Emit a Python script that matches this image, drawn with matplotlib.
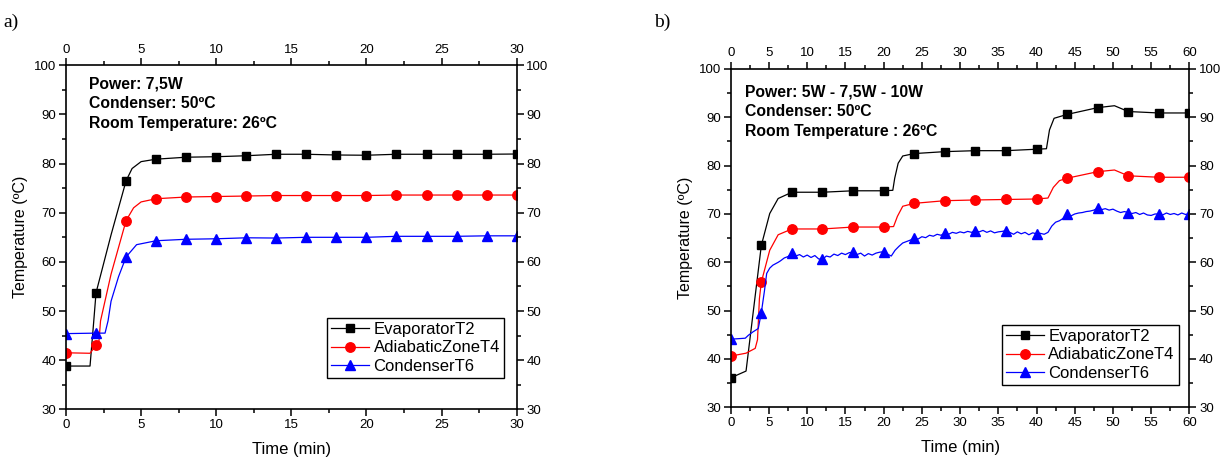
import numpy as np
import matplotlib
matplotlib.use('Agg')
import matplotlib.pyplot as plt
from matplotlib.ticker import MultipleLocator

plt.rcParams['font.family'] = ['Liberation Sans', 'DejaVu Sans']

# ===== Panel a data (constant power 7,5W) =====
ta_marks = [0, 2, 4, 6, 8, 10, 12, 14, 16, 18, 20, 22, 24, 26, 28, 30]

ta_evap = [0, 1.6, 1.85, 2, 3, 4, 4.4, 5, 6, 8, 10, 12, 14, 16, 18, 20, 22, 24, 26, 28, 30]
evap_a = [38.8, 38.8, 48.0, 53.7, 65.5, 76.5, 79.0, 80.4, 80.9, 81.3, 81.4, 81.6, 81.9, 81.9,
          81.75, 81.7, 81.9, 81.9, 81.9, 81.9, 81.95]

ta_adiab = [0, 1.6, 2, 2.2, 2.3, 3, 4, 4.5, 5, 6, 8, 10, 12, 14, 16, 18, 20, 22, 24, 26, 28, 30]
adiab_a = [41.5, 41.4, 43.0, 44.0, 48.0, 57.5, 68.4, 71.0, 72.2, 72.85, 73.2, 73.3, 73.4, 73.5,
           73.5, 73.5, 73.5, 73.6, 73.6, 73.6, 73.6, 73.6]

ta_cond = [0, 2, 2.6, 2.8, 3.0, 3.5, 4, 4.7, 6, 8, 10, 12, 14, 16, 18, 20, 22, 24, 26, 28, 30]
cond_a = [45.4, 45.5, 45.5, 48.0, 52.0, 57.0, 61.0, 63.5, 64.3, 64.6, 64.7, 64.9, 64.85, 65.0,
          65.0, 65.0, 65.2, 65.2, 65.2, 65.3, 65.3]

# ===== Panel b data (power steps 5W - 7,5W - 10W) =====
tb_marks = [0, 4, 8, 12, 16, 20, 24, 28, 32, 36, 40, 44, 48, 52, 56, 60]

tb_evap = [0, 2.0, 4, 5.1, 6.2, 8, 12, 16, 20, 21.2, 21.45, 21.9, 22.5, 24, 28, 32, 36, 40,
           41.3, 41.7, 42.3, 44, 48, 50.2, 52, 56, 60]
evap_b = [36.1, 37.5, 63.5, 70.1, 73.2, 74.5, 74.5, 74.8, 74.8, 74.9, 77.4, 80.5, 82.0, 82.5,
          82.9, 83.1, 83.1, 83.4, 83.5, 87.4, 89.8, 90.6, 92.0, 92.4, 91.2, 90.9, 90.9]

tb_adiab = [0, 2.0, 3.2, 3.5, 3.75, 4, 5.1, 6.2, 8, 12, 16, 20, 21.3, 21.8, 22.5, 24, 28, 32,
            36, 40, 41.5, 42.2, 43, 44, 48, 50.2, 52, 56, 60]
adiab_b = [40.6, 41.2, 42.2, 44.0, 52.5, 55.9, 62.5, 65.7, 66.9, 66.9, 67.3, 67.3, 67.4, 69.5,
           71.6, 72.2, 72.75, 72.9, 73.0, 73.1, 73.3, 75.5, 76.9, 77.4, 78.75, 79.1, 77.9, 77.6, 77.6]

tb_cond = [0, 1, 1.9, 2.3, 2.9, 3.6, 4, 4.4, 4.7, 5.1, 5.5, 6.2, 6.5, 7, 7.5,
           8, 8.5, 9, 9.5, 10, 10.5, 11, 11.5, 12, 12.5, 13, 13.5, 14, 14.5, 15, 15.5,
           16, 16.5, 17, 17.5, 18, 18.5, 19, 19.5, 20, 20.5, 21, 21.5, 22, 22.5, 23, 23.5,
           24, 24.5, 25, 25.5, 26, 26.5, 27, 27.5, 28, 28.5, 29, 29.5, 30, 30.5, 31, 31.5,
           32, 32.5, 33, 33.5, 34, 34.5, 35, 35.5, 36, 36.5, 37, 37.5, 38, 38.5, 39, 39.5,
           40, 40.5, 41, 41.5, 42, 42.5, 43, 43.5, 44, 44.5, 45, 45.5, 46, 46.5, 47, 47.5,
           48, 48.5, 49, 49.5, 50, 50.5, 51, 51.5, 52, 52.5, 53, 53.5, 54, 54.5, 55, 55.5,
           56, 56.5, 57, 57.5, 58, 58.5, 59, 59.5, 60]
cond_b = [44.1, 44.2, 44.3, 44.9, 45.6, 46.3, 49.6, 54.0, 57.7, 58.8, 59.4, 60.0, 60.3, 60.9, 61.2,
          61.9, 61.3, 61.6, 61.1, 61.5, 61.0, 61.4, 60.7, 60.6, 61.3, 61.1, 61.7, 61.4, 61.9, 61.6, 62.0,
          62.1, 61.6, 61.9, 61.3, 61.8, 61.5, 61.9, 62.1, 62.2, 61.7, 61.3, 62.5, 63.3, 64.0, 64.3, 64.6,
          65.0, 64.8, 65.3, 65.1, 65.6, 65.4, 65.8, 65.6, 66.0, 65.8, 66.2, 66.0, 66.3, 66.1, 66.4, 66.2,
          66.55, 66.3, 66.6, 66.2, 66.5, 66.1, 66.3, 66.4, 66.55, 66.2, 65.8, 66.3, 65.9, 66.2, 65.7, 66.1,
          65.9, 66.0, 65.8, 66.2, 67.5, 68.3, 68.6, 69.1, 69.9, 69.6, 70.0, 70.2, 70.3, 70.5, 70.6, 70.8,
          71.2, 70.9, 71.1, 70.8, 71.0, 70.6, 70.3, 70.5, 70.3, 70.1, 70.3, 69.9, 70.2, 69.8, 69.7, 70.0,
          70.0, 69.8, 70.2, 69.9, 70.1, 69.8, 70.2, 69.9, 70.1]

legends = ['EvaporatorT2', 'AdiabaticZoneT4', 'CondenserT6']
colors = ['black', 'red', 'blue']
markers = ['s', 'o', '^']
msizes = [5.8, 6.8, 7.0]


def draw_panel(ax, series, marks, xmax, xmajor, note, note_xy, leg_anchor):
    for i, (t, y) in enumerate(series):
        idx = np.where(np.isin(np.array(t), marks))[0]
        ax.plot(t, y, color=colors[i], linewidth=0.9, marker=markers[i], markevery=list(idx),
                markersize=msizes[i], markerfacecolor=colors[i], markeredgecolor=colors[i],
                label=legends[i])
    ax.set_xlim(0, xmax)
    ax.set_ylim(30, 100)
    ax.xaxis.set_major_locator(MultipleLocator(xmajor))
    ax.xaxis.set_minor_locator(MultipleLocator(xmajor / 2))
    ax.yaxis.set_major_locator(MultipleLocator(10))
    ax.yaxis.set_minor_locator(MultipleLocator(5))
    ax.tick_params(which='both', direction='out', top=True, right=True,
                   labeltop=True, labelright=True, labelsize=9.5, width=1.1, pad=2)
    ax.tick_params(which='major', length=5)
    ax.tick_params(which='minor', length=3)
    for s in ax.spines.values():
        s.set_linewidth(1.2)
    ax.set_xlabel('Time (min)', fontsize=12, labelpad=8)
    ax.set_ylabel('Temperature (ºC)', fontsize=11.5, labelpad=4)
    ax.text(note_xy[0], note_xy[1], note, transform=ax.transAxes, fontsize=11.3,
            fontweight='bold', va='top', ha='left', linespacing=1.4)
    leg = ax.legend(loc='lower right', bbox_to_anchor=leg_anchor, fontsize=12,
                    handlelength=2.3, handletextpad=0.25, labelspacing=0.2,
                    borderpad=0.25, borderaxespad=0, fancybox=False, framealpha=1)
    leg.get_frame().set_edgecolor('black')
    leg.get_frame().set_linewidth(1.0)


fig = plt.figure(figsize=(12.22, 4.59), dpi=100)
ax_a = fig.add_axes([0.0540, 0.1083, 0.3688, 0.7494])
ax_b = fig.add_axes([0.5980, 0.1126, 0.3753, 0.7371])

draw_panel(ax_a, [(ta_evap, evap_a), (ta_adiab, adiab_a), (ta_cond, cond_a)], ta_marks, 30, 5,
           'Power: 7,5W\nCondenser: 50ºC\nRoom Temperature: 26ºC', (0.05, 0.968), (0.972, 0.091))
draw_panel(ax_b, [(tb_evap, evap_b), (tb_adiab, adiab_b), (tb_cond, cond_b)], tb_marks, 60, 5,
           'Power: 5W - 7,5W - 10W\nCondenser: 50ºC\nRoom Temperature : 26ºC', (0.031, 0.955),
           (0.977, 0.066))

fig.text(0.003, 0.952, 'a)', fontsize=14, family='Liberation Serif', va='center')
fig.text(0.535, 0.952, 'b)', fontsize=14, family='Liberation Serif', va='center')

fig.savefig('out.png', dpi=100)
